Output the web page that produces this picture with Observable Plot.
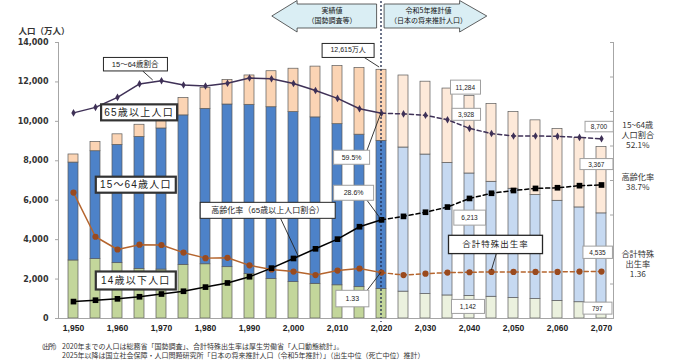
<!DOCTYPE html>
<html><head><meta charset="utf-8">
<script src="https://cdn.jsdelivr.net/npm/d3@7"></script>
<script src="https://cdn.jsdelivr.net/npm/@observablehq/plot@0.6"></script>
<style>
html,body{margin:0;padding:0;background:#fff;}
body{width:690px;height:362px;overflow:hidden;position:relative;font-family:"Liberation Sans","Noto Sans CJK JP",sans-serif;}
#chart{position:absolute;left:0;top:0;}
#notes{position:absolute;left:0;top:342px;font-size:7px;line-height:8.5px;color:#333;font-family:"Noto Sans CJK JP",sans-serif;white-space:nowrap;}
#notes .k{position:absolute;left:38px;font-size:6.5px;letter-spacing:-1.2px;}
#notes .t{position:absolute;left:62px;}
#notes .row{position:relative;height:8.5px;}
.co-thick text{letter-spacing:1.2px;}
.co-plainL text{letter-spacing:1px;}
</style></head><body>
<div id="chart"></div>
<div id="notes">
  <div class="row"><span class="k">（出所）</span><span class="t">2020年までの人口は総務省「国勢調査」、合計特殊出生率は厚生労働省「人口動態統計」。</span></div>
  <div class="row"><span class="t">2025年以降は国立社会保障・人口問題研究所「日本の将来推計人口（令和5年推計）」（出生中位（死亡中位）推計）</span></div>
</div>
<script>
// ---- data (万人, %, 合計特殊出生率) ----
const years = [1950,1955,1960,1965,1970,1975,1980,1985,1990,1995,2000,2005,2010,2015,2020,2025,2030,2035,2040,2045,2050,2055,2060,2065,2070];
const pop0to14 = [2943,3012,2807,2517,2482,2722,2751,2603,2249,2001,1847,1759,1684,1589,1503,1363,1240,1169,1142,1103,1041,987,893,825,797];
const pop15to64 = [4966,5473,6000,6693,7157,7581,7884,8251,8590,8716,8622,8442,8173,7735,7509,7310,7076,6722,6213,5832,5540,5274,5078,4809,4535];
const pop65plus = [411,475,535,618,733,887,1065,1247,1489,1826,2201,2576,2948,3387,3603,3653,3696,3773,3928,3945,3888,3790,3644,3525,3367];
const popTotal = [8320,8960,9342,9828,10372,11190,11700,12101,12328,12543,12670,12777,12806,12709,12615,12326,12012,11664,11284,10880,10469,10051,9615,9159,8700];
const ratio15to64 = [59.6,61.2,64.1,68.0,68.9,67.7,67.4,68.2,69.7,69.5,68.1,66.1,63.8,60.8,59.5,59.3,58.9,57.6,55.1,53.6,52.9,52.9,52.8,52.5,52.1];
const agingRate = [4.9,5.3,5.7,6.3,7.1,7.9,9.1,10.3,12.1,14.6,17.4,20.2,23.0,26.6,28.6,29.6,30.8,32.3,34.8,36.3,37.1,37.7,37.9,38.5,38.7];
const fertility = [3.65,2.37,2.00,2.14,2.13,1.91,1.75,1.76,1.54,1.42,1.36,1.26,1.39,1.45,1.33,1.26,1.30,1.33,1.34,1.35,1.35,1.35,1.35,1.36,1.36];
const lastActualYear = 2020;
const xTickYears = [1950,1960,1970,1980,1990,2000,2010,2020,2030,2040,2050,2060,2070];
const yTicks = [0,2000,4000,6000,8000,10000,12000,14000];
const rightTicks = [0,10,20,30,40,50,60,70,80]; // %（右軸、ラベルなし）
const ageGroups = ["14歳以下人口","15～64歳人口","65歳以上人口"];
const axisTitle = "人口（万人）";
const arrowLeftText = ["実績値","（国勢調査等）"];
const arrowRightText = ["令和5年推計値","（日本の将来推計人口）"];

// ---- styles ----
const FONT = '"Liberation Sans","Noto Sans CJK JP",sans-serif';
const colorsActual = ["#c3d69b","#4d82c8","#fbd4b4"];
const colorsProj = ["#ebf1de","#c6d9f1","#fde9d9"];
const cRatio = "#3f3157", cAging = "#000000", cFertLine = "#b5652e", cFertDot = "#9a4a1e";

const Y_MAX = 14000, R_MAX = 80, K = Y_MAX / R_MAX; // right-axis % -> left units
const fmt = d3.format(",");
const idx = yr => years.indexOf(yr);
const anchorValue = (yr, at) => {
  const i = idx(yr);
  switch (at) {
    case "total": return popTotal[i];
    case "mid0to14": return pop0to14[i] / 2;
    case "mid15to64": return pop0to14[i] + pop15to64[i] / 2;
    case "ratio": return ratio15to64[i] * K;
    case "aging": return agingRate[i] * K;
    case "fert": return fertility[i] * 10 * K;
  }
};

const rows = years.flatMap((yr, i) => [pop0to14, pop15to64, pop65plus].map((arr, k) => ({
  year: yr, group: ageGroups[k], value: arr[i], color: (yr > lastActualYear ? colorsProj : colorsActual)[k]
})));
const ser = years.map((yr, i) => ({year: yr, r: ratio15to64[i] * K, a: agingRate[i] * K, f: fertility[i] * 10 * K}));
const actual = ser.filter(d => d.year <= lastActualYear), proj = ser.filter(d => d.year >= lastActualYear);

const callouts = [
  {label: "15～64歳割合", year: 1970, at: "ratio", dx: -26.3, dy: -16, w: 64, h: 13.5, size: 7.5, kind: "plain", from: [8, 6.7], to: [-8.3, -0.3]},
  {label: ageGroups[2], year: 1965, at: "total", dx: -0.4, dy: -12.1, w: 76, h: 16, size: 10, kind: "thick"},
  {label: ageGroups[1], year: 1965, at: "mid15to64", dx: -3.7, dy: -17.9, w: 80, h: 16, size: 10, kind: "thick"},
  {label: ageGroups[0], year: 1965, at: "mid0to14", dx: -3.7, dy: -12.9, w: 80, h: 18, size: 10, kind: "thick"},
  {label: "高齢化率（65歳以上人口割合）", year: 2000, at: "aging", dx: -25.8, dy: -47.7, w: 135, h: 16, size: 8, kind: "plain", from: [13.3, 8], to: [5.8, -0.7]},
  {label: fmt(popTotal[idx(2020)]) + "万人", year: 2020, at: "total", dx: -33.4, dy: -19.6, w: 52, h: 14, size: 7, kind: "plain", from: [15.5, 7], to: [-1.9, -2.3]},
  {label: ratio15to64[idx(2020)].toFixed(1) + "%", year: 2020, at: "ratio", dx: -29.9, dy: 44.3, w: 36, h: 14, size: 7, kind: "value", from: [16, -7], to: [0, 0]},
  {label: agingRate[idx(2020)].toFixed(1) + "%", year: 2020, at: "aging", dx: -27.9, dy: -26.8, w: 40, h: 15, size: 7, kind: "value", from: [13.7, 7.5], to: [0, 0]},
  {label: fertility[idx(2020)].toFixed(2), year: 2020, at: "fert", dx: -29.2, dy: 26.2, w: 33, h: 16.5, size: 7, kind: "value", from: [15.6, -8.3], to: [0, 0]},
  {label: fmt(popTotal[idx(2040)]), year: 2040, at: "total", dx: -4.2, dy: -8.5, w: 30, h: 14, size: 6.5, kind: "value"},
  {label: fmt(pop65plus[idx(2040)]), year: 2040, at: "total", dx: -3.4, dy: 18.7, w: 28.5, h: 12, size: 6.5, kind: "value"},
  {label: fmt(pop15to64[idx(2040)]), year: 2040, at: "mid15to64", dx: 0, dy: -16.7, w: 31.7, h: 15, size: 6.5, kind: "value"},
  {label: fmt(pop0to14[idx(2040)]), year: 2040, at: "mid0to14", dx: -1.7, dy: -0.4, w: 33, h: 14, size: 6.5, kind: "value"},
  {label: "合計特殊出生率", year: 2045, at: "fert", dx: 4, dy: -27.2, w: 94, h: 18.3, size: 8.5, kind: "plainL", from: [1.4, 9.1], to: [0.4, -1.4]},
  {label: fmt(popTotal[idx(2070)]), year: 2070, at: "total", dx: -2.5, dy: -20, w: 28.3, h: 10.5, size: 6.5, kind: "value"},
  {label: fmt(pop65plus[idx(2070)]), year: 2070, at: "total", dx: -5.2, dy: 17.5, w: 33, h: 11, size: 6.5, kind: "value"},
  {label: fmt(pop15to64[idx(2070)]), year: 2070, at: "mid15to64", dx: -4, dy: -5.4, w: 29.5, h: 12.3, size: 6.5, kind: "value"},
  {label: fmt(pop0to14[idx(2070)]), year: 2070, at: "mid0to14", dx: -4.2, dy: -2.1, w: 29, h: 12, size: 6.5, kind: "value"}
].map(c => ({...c, v: anchorValue(c.year, c.at)}));
const boxStyle = {
  plain: {stroke: "#262626", sw: 1},
  plainL: {stroke: "#262626", sw: 1.3},
  thick: {stroke: "#333", sw: 2.2},
  value: {stroke: "#a0a0a0", sw: 1}
};

const lastYear = years[years.length - 1];
const sideLabels = [
  {label: `15~64歳\n人口割合\n${ratio15to64[idx(lastYear)].toFixed(1)}%`, at: "ratio", dy: -3.5},
  {label: `高齢化率\n${agingRate[idx(lastYear)].toFixed(1)}%`, at: "aging", dy: -3.5},
  {label: `合計特殊\n出生率\n${fertility[idx(lastYear)].toFixed(2)}`, at: "fert", dy: -7.8}
].map(s => ({...s, year: lastYear, v: anchorValue(lastYear, s.at)}));

const chart = Plot.plot({
  width: 690, height: 340,
  marginLeft: 58, marginRight: 77, marginTop: 42, marginBottom: 22,
  style: {fontFamily: FONT, fontSize: "8px", color: "#222", background: "transparent", overflow: "visible"},
  x: {type: "band", domain: years, paddingInner: 0.55, paddingOuter: 0.3415, align: 0.575, axis: null},
  y: {domain: [0, Y_MAX], axis: null},
  color: {type: "identity"},
  marks: [
    Plot.barY(rows, {x: "year", y: "value", fill: "color", stroke: "#5a5a5a", strokeWidth: 0.7}),
    Plot.frame({anchor: "left", stroke: "#a6a6a6"}),
    Plot.frame({anchor: "bottom", stroke: "#a6a6a6"}),
    Plot.frame({anchor: "right", stroke: "#a6a6a6"}),
    Plot.axisY({anchor: "left", ticks: yTicks, tickFormat: fmt, tickSize: 3, tickPadding: 7, label: null,
      stroke: "#a6a6a6", fill: "#333", fontFamily: "DejaVu Sans", fontWeight: "bold", fontSize: 8}),
    Plot.axisY({anchor: "right", ticks: rightTicks.map(v => v * K), tickFormat: () => "", tickSize: 4, dx: -4, label: null, stroke: "#a6a6a6"}),
    Plot.axisX({ticks: xTickYears, tickSize: 0, tickPadding: 6, label: null, fill: "#222", fontSize: 8.5, fontFamily: '"Liberation Sans",sans-serif', fontWeight: "bold"}),
    Plot.text([axisTitle], {frameAnchor: "top-left", dx: -40, dy: -15, textAnchor: "start", fontWeight: "bold", fontSize: 8.5, fill: "#333", fontFamily: '"Noto Sans CJK JP",sans-serif'}),
    // 15～64歳割合
    Plot.line(actual, {x: "year", y: "r", stroke: cRatio, strokeWidth: 1.5}),
    Plot.line(proj, {x: "year", y: "r", stroke: cRatio, strokeWidth: 1.5, strokeDasharray: "4,3"}),
    // 合計特殊出生率
    Plot.line(actual, {x: "year", y: "f", stroke: cFertLine, strokeWidth: 1.5}),
    Plot.line(proj, {x: "year", y: "f", stroke: cFertLine, strokeWidth: 1.5, strokeDasharray: "4,3"}),
    // 高齢化率
    Plot.line(actual, {x: "year", y: "a", stroke: cAging, strokeWidth: 1.5}),
    Plot.line(proj, {x: "year", y: "a", stroke: cAging, strokeWidth: 1.5, strokeDasharray: "4,3"}),
    Plot.dot(ser, {x: "year", y: "r", symbol: "diamond", fill: cRatio, r: 2.3}),
    Plot.dot(ser, {x: "year", y: "f", symbol: "circle", fill: cFertDot, r: 3.1}),
    Plot.dot(ser, {x: "year", y: "a", symbol: "square", fill: cAging, r: 3.2}),
    ...callouts.map((c, i) => Plot.text([c], {x: "year", y: "v", text: "label", dx: c.dx, dy: c.dy,
      className: `co co-${i} co-${c.kind}`, fontSize: c.size, fill: "#222", textAnchor: "middle", lineAnchor: "middle"})),
    ...sideLabels.map(s => Plot.text([s], {x: "year", y: "v", text: "label", dx: 36.3, dy: s.dy, lineHeight: 1.22,
      fontSize: 8.2, fill: "#333", textAnchor: "middle", lineAnchor: "middle", fontFamily: '"Noto Sans CJK JP",sans-serif'}))
  ]
});
document.getElementById("chart").append(chart);

// ---- annotations drawn with the plot's own scales ----
const sx = chart.scale("x"), sy = chart.scale("y");
const X = yr => sx.apply(yr) + sx.bandwidth / 2;
const Y = v => sy.apply(v);
const NS = "http://www.w3.org/2000/svg";
const el = (name, attrs) => { const e = document.createElementNS(NS, name); for (const k in attrs) e.setAttribute(k, attrs[k]); return e; };

// dotted 2020 divider
const x20 = X(lastActualYear);
const divider = el("line", {x1: x20, x2: x20, y1: 1, y2: Y(0) + 4, stroke: "#1f2b4d", "stroke-width": 1.3, "stroke-dasharray": "2,2"});
chart.querySelector('g[aria-label="bar"]').after(divider);

// leader lines under the boxes
const firstCo = chart.querySelector("g.co");
const leaders = el("g", {stroke: "#222", "stroke-width": 0.9});
callouts.forEach(c => {
  if (!c.from) return;
  const ax = X(c.year), ay = Y(c.v);
  leaders.append(el("line", {x1: ax + c.dx + c.from[0], y1: ay + c.dy + c.from[1], x2: ax + c.to[0], y2: ay + c.to[1]}));
});
firstCo.before(leaders);

// boxes behind callout texts
callouts.forEach((c, i) => {
  const t = chart.querySelector(`g.co-${i} text`);
  if (!t) return;
  const bb = t.getBBox();
  const st = boxStyle[c.kind];
  const r = el("rect", {x: bb.x + bb.width / 2 - c.w / 2, y: bb.y + bb.height / 2 - c.h / 2, width: c.w, height: c.h,
    fill: "#fff", stroke: st.stroke, "stroke-width": st.sw});
  if (t.getAttribute("transform")) r.setAttribute("transform", t.getAttribute("transform"));
  t.before(r);
});

// header arrows
const arrows = el("g", {});
const yT = 0.5, yB = 32, bT = 4, bB = 28, yM = 16;
const leftPts = [[x20 - 109.2, yM], [x20 - 83.9, yT], [x20 - 83.9, bT], [x20 - 4.4, bT], [x20 - 4.4, bB], [x20 - 83.9, bB], [x20 - 83.9, yB]];
const rightPts = [[x20 + 105.8, yM], [x20 + 78.6, yT], [x20 + 78.6, bT], [x20 + 3.1, bT], [x20 + 3.1, bB], [x20 + 78.6, bB], [x20 + 78.6, yB]];
for (const pts of [leftPts, rightPts]) arrows.append(el("polygon", {points: pts.map(p => p.join(",")).join(" "), fill: "#daeef4", stroke: "#3a3a3a", "stroke-width": 0.8}));
const addText = (lines, cx) => lines.forEach((s, j) => {
  const t = el("text", {x: cx, y: 11.5 + j * 9.5, "text-anchor": "middle", "dominant-baseline": "middle", "font-size": 7, fill: "#111",
    "font-family": '"Noto Sans CJK JP",sans-serif'});
  t.textContent = s; arrows.append(t);
});
addText(arrowLeftText, x20 - 49);
addText(arrowRightText, x20 + 47.5);
chart.append(arrows);
</script>
</body></html>
